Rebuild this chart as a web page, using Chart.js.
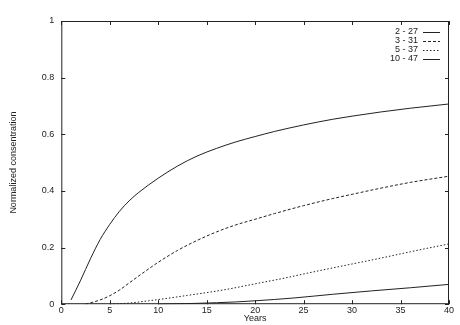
<!DOCTYPE html>
<html>
<head>
<meta charset="utf-8">
<script src="https://cdn.jsdelivr.net/npm/chart.js@4/dist/chart.umd.min.js"></script>
<style>
    html, body { margin: 0; padding: 0; background: #fff; }
    #wrap { width: 460px; height: 325px; }
</style>
</head>
<body>
<div id="wrap"><canvas id="myChart" width="460" height="325"></canvas></div>
<script>
// series labels (depth ranges)
const labels = ["2 - 27", "3 - 31", "5 - 37", "10 - 47"];

// values: [year, normalized concentration]
const s1 = [[1, 0.015], [2, 0.085], [3, 0.16], [4, 0.228], [5, 0.282], [6, 0.328], [7, 0.365], [8, 0.395],
    [10, 0.445], [12, 0.488], [14, 0.523], [16, 0.55], [18, 0.573], [20, 0.592], [22, 0.61],
    [25, 0.633], [28, 0.653], [30, 0.664], [33, 0.679], [36, 0.692], [40, 0.707]];
const s2 = [[2.5, 0], [4, 0.015], [5, 0.03], [6, 0.05], [7, 0.075], [8, 0.1], [10, 0.148], [12, 0.19],
    [14, 0.225], [16, 0.255], [18, 0.28], [20, 0.3], [22, 0.32], [25, 0.348], [28, 0.373],
    [30, 0.388], [33, 0.41], [36, 0.43], [40, 0.452]];
const s3 = [[5, 0], [7, 0.004], [9, 0.012], [11, 0.021], [13, 0.031], [15, 0.041], [17, 0.052],
    [20, 0.072], [23, 0.092], [26, 0.114], [30, 0.142], [33, 0.163], [36, 0.185], [40, 0.213]];
const s4 = [[10, 0], [14, 0.003], [18, 0.008], [20, 0.012], [24, 0.022], [28, 0.035], [32, 0.047],
    [36, 0.058], [40, 0.07]];

const xTicks = [0, 5, 10, 15, 20, 25, 30, 35, 40];
const yTicks = [0, 0.2, 0.4, 0.6, 0.8, 1];

const dashes = [[], [3, 2], [1.5, 2], []];
const seriesData = [s1, s2, s3, s4];
const font = "'Liberation Sans', Arial, sans-serif";

const datasets = seriesData.map(function (s, i) {
    return {
        label: labels[i],
        data: s.map(p => ({ x: p[0], y: p[1] })),
        borderColor: "#222",
        borderWidth: 1,
        borderDash: dashes[i],
        pointRadius: 0,
        cubicInterpolationMode: "monotone",
        fill: false
    };
});

// gnuplot-style box with inward ticks and legend inside
const boxPlugin = {
    id: "box",
    afterDraw(chart) {
        const ctx = chart.ctx;
        const a = chart.chartArea;
        const xs = chart.scales.x, ys = chart.scales.y;
        ctx.save();
        ctx.strokeStyle = "#222";
        ctx.lineWidth = 1;
        ctx.setLineDash([]);
        ctx.strokeRect(a.left + 0.5, a.top + 0.5, a.right - a.left - 1, a.bottom - a.top - 1);
        ctx.beginPath();
        for (let v of xTicks) {
            let px = Math.round(xs.getPixelForValue(v)) + 0.5;
            ctx.moveTo(px, a.bottom); ctx.lineTo(px, a.bottom - 4);
            ctx.moveTo(px, a.top); ctx.lineTo(px, a.top + 4);
        }
        for (let v of yTicks) {
            let py = Math.round(ys.getPixelForValue(v)) + 0.5;
            ctx.moveTo(a.left, py); ctx.lineTo(a.left + 4, py);
            ctx.moveTo(a.right, py); ctx.lineTo(a.right - 4, py);
        }
        ctx.stroke();

        // legend
        ctx.font = "9px " + font;
        ctx.fillStyle = "#222";
        ctx.textAlign = "right";
        ctx.textBaseline = "middle";
        chart.data.datasets.forEach(function (ds, i) {
            let y = a.top + 11 + i * 9;
            ctx.fillText(ds.label, a.right - 31, y);
            ctx.setLineDash(ds.borderDash);
            ctx.beginPath();
            ctx.moveTo(a.right - 26, y + 0.5);
            ctx.lineTo(a.right - 9, y + 0.5);
            ctx.stroke();
        });
        ctx.restore();
    }
};

new Chart("myChart", {
    type: "line",
    data: { datasets: datasets },
    options: {
        responsive: false,
        animation: false,
        layout: { padding: { left: 0, right: 11, top: 21, bottom: 0 } },
        plugins: {
            legend: { display: false },
            tooltip: { enabled: false }
        },
        scales: {
            x: {
                type: "linear",
                min: 0,
                max: 40,
                afterBuildTicks: s => { s.ticks = xTicks.map(v => ({ value: v })); },
                grid: { display: false, drawTicks: false },
                border: { display: false },
                ticks: {
                    color: "#222",
                    font: { family: font, size: 9 },
                    padding: 1,
                    maxRotation: 0
                },
                title: {
                    display: true,
                    text: "Years",
                    color: "#222",
                    font: { family: font, size: 9, lineHeight: 1 },
                    padding: { top: -3, bottom: 2 }
                }
            },
            y: {
                min: 0,
                max: 1,
                afterBuildTicks: s => { s.ticks = yTicks.map(v => ({ value: v })); },
                grid: { display: false, drawTicks: false },
                border: { display: false },
                ticks: {
                    color: "#222",
                    font: { family: font, size: 9 },
                    padding: 7,
                    callback: v => String(v)
                },
                title: {
                    display: true,
                    text: "Normalized consentration",
                    color: "#222",
                    font: { family: font, size: 9 },
                    padding: { top: 8, bottom: 16 }
                }
            }
        }
    },
    plugins: [boxPlugin]
});
</script>
</body>
</html>
